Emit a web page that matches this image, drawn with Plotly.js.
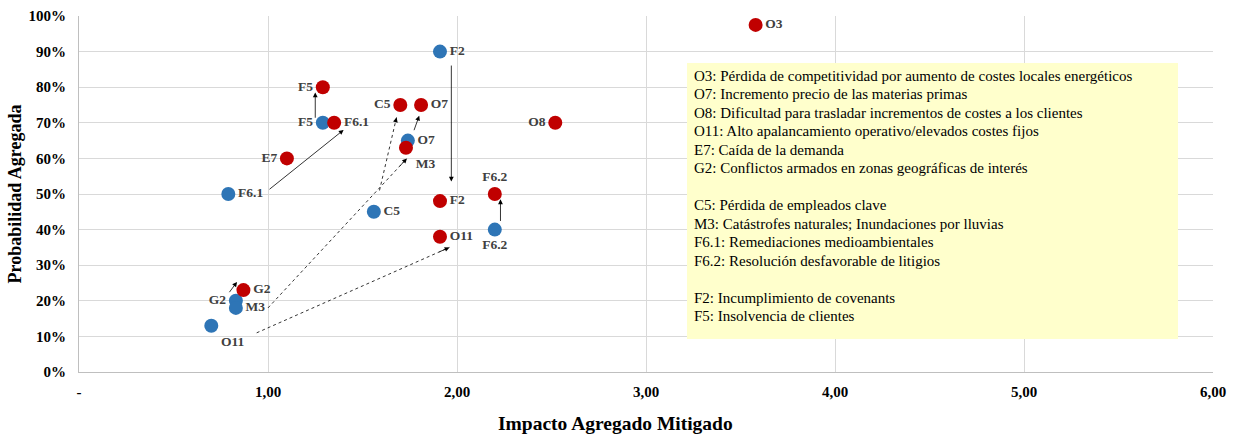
<!DOCTYPE html>
<html>
<head>
<meta charset="utf-8">
<script src="https://cdn.plot.ly/plotly-3.0.1.min.js"></script>
<style>html,body{margin:0;padding:0;background:#fff;}#chart{width:1236px;height:437px;}</style>
</head>
<body>
<div id="chart"></div>
<script>
// ---- data ----
const blueLabels = ['F2','F5','F6.1','C5','O7','F6.2','G2','M3','O11'];
const blueX = [1.91, 1.29, 0.79, 1.56, 1.74, 2.20, 0.83, 0.83, 0.70];
const blueY = [0.90, 0.70, 0.50, 0.45, 0.65, 0.40, 0.20, 0.18, 0.13];

const redLabels = ['O3','F5','F6.1','C5','O7','O8','E7','M3','F2','F6.2','O11','G2'];
const redX = [3.58, 1.29, 1.35, 1.70, 1.81, 2.52, 1.10, 1.73, 1.91, 2.20, 1.91, 0.87];
const redY = [0.975, 0.80, 0.70, 0.75, 0.75, 0.70, 0.60, 0.63, 0.48, 0.50, 0.38, 0.23];

// arrows (from -> to), in data units
const arrowFromX = [1.00, 1.25, 1.97, 1.59, 1.77, 1.00, 0.79, 0.94, 2.23];
const arrowFromY = [0.51, 0.71, 0.865, 0.51, 0.675, 0.18, 0.22, 0.11, 0.42];
const arrowToX   = [1.40, 1.25, 1.97, 1.68, 1.80, 1.735, 0.836, 1.96, 2.23];
const arrowToY   = [0.68, 0.785, 0.535, 0.715, 0.72, 0.60, 0.253, 0.35, 0.485];

const xTickVals = [0, 1, 2, 3, 4, 5, 6];
const xTickText = ['-', '1,00', '2,00', '3,00', '4,00', '5,00', '6,00'];

const legendLines = [
  'O3: Pérdida de competitividad por aumento de costes locales energéticos',
  'O7: Incremento precio de las materias primas',
  'O8: Dificultad para trasladar incrementos de costes a los clientes',
  'O11: Alto apalancamiento operativo/elevados costes fijos',
  'E7: Caída de la demanda',
  'G2: Conflictos armados en zonas geográficas de interés',
  '',
  'C5: Pérdida de empleados clave',
  'M3: Catástrofes naturales; Inundaciones por lluvias',
  'F6.1: Remediaciones medioambientales',
  'F6.2: Resolución desfavorable de litigios',
  '',
  'F2: Incumplimiento de covenants',
  'F5: Insolvencia de clientes'
];

// ---- styles ----
const blueTextPos = ['middle right','middle left','middle right','middle right','middle right','bottom center','middle left','middle right','bottom right'];
const redTextPos = ['middle right','middle left','middle right','middle left','middle right','middle left','middle left','bottom right','middle right','top center','middle right','middle right'];
const arrowDotted = [false, false, false, true, false, true, false, true, false];
const serif = 'Liberation Serif, Times New Roman, serif';
const labelFont = {family: serif, size: 13.5, color: '#404040', weight: 'bold'};

// plot geometry (pixels) for paper-coordinate helpers
const W = 1236, H = 437, ML = 79, MR = 23, MT = 16, MB = 65;
const PW = W - ML - MR, PH = H - MT - MB;
const px = v => (v - ML) / PW;
const py = v => (H - MB - v) / PH;

const traces = [
  {
    type: 'scatter', mode: 'markers+text',
    x: blueX, y: blueY, text: blueLabels.map(t => '<b>' + t + '</b>'),
    textposition: blueTextPos, textfont: labelFont,
    marker: {size: 14, color: '#2E75B6'}, cliponaxis: false, hoverinfo: 'skip'
  },
  {
    type: 'scatter', mode: 'markers+text',
    x: redX, y: redY, text: redLabels.map(t => '<b>' + t + '</b>'),
    textposition: redTextPos, textfont: labelFont,
    marker: {size: 14, color: '#C00000'}, cliponaxis: false, hoverinfo: 'skip'
  }
];

const shapes = [{
  type: 'rect', xref: 'paper', yref: 'paper',
  x0: px(687), x1: px(1178), y0: py(339), y1: py(63),
  fillcolor: '#FFFFCC', line: {width: 0}, layer: 'above'
}];

const annotations = [];
arrowFromX.forEach((fx, i) => {
  const tx = arrowToX[i], ty = arrowToY[i], fy = arrowFromY[i];
  if (arrowDotted[i]) {
    shapes.push({
      type: 'line', xref: 'x', yref: 'y', x0: fx, y0: fy, x1: tx, y1: ty,
      line: {color: '#000', width: 0.8, dash: 'dot'}, layer: 'above'
    });
    annotations.push({
      x: tx, y: ty, ax: tx - (tx - fx) * 0.06, ay: ty - (ty - fy) * 0.06,
      xref: 'x', yref: 'y', axref: 'x', ayref: 'y',
      text: '', showarrow: true, arrowhead: 2, arrowsize: 1.2, arrowwidth: 0.8, arrowcolor: '#000'
    });
  } else {
    annotations.push({
      x: tx, y: ty, ax: fx, ay: fy,
      xref: 'x', yref: 'y', axref: 'x', ayref: 'y',
      text: '', showarrow: true, arrowhead: 2, arrowsize: 1.2, arrowwidth: 0.8, arrowcolor: '#000'
    });
  }
});

legendLines.forEach((line, i) => {
  if (!line) return;
  annotations.push({
    xref: 'paper', yref: 'paper', x: px(692), y: py(75.7 + 18.5 * i),
    xanchor: 'left', yanchor: 'middle', align: 'left', showarrow: false,
    text: line, font: {family: serif, size: 15, color: '#000'}
  });
});

annotations.push({
  xref: 'paper', yref: 'paper', x: px(615), y: py(424),
  xanchor: 'center', yanchor: 'middle', showarrow: false,
  text: '<b>Impacto Agregado Mitigado</b>',
  font: {family: serif, size: 19.5, color: '#000'}
});

const layout = {
  width: W, height: H,
  margin: {l: ML, r: MR, t: MT, b: MB},
  paper_bgcolor: '#fff', plot_bgcolor: '#fff',
  showlegend: false,
  xaxis: {
    range: [0, 6], tickvals: xTickVals, ticktext: xTickText,
    showgrid: true, gridcolor: '#d9d9d9', gridwidth: 1,
    zeroline: false, showline: true, linecolor: '#bfbfbf', linewidth: 1,
    ticks: '', ticklabelstandoff: 6,
    tickfont: {family: serif, size: 15, color: '#000', weight: 'bold'}
  },
  yaxis: {
    range: [0, 1], dtick: 0.1, tickformat: '.0%',
    showgrid: true, gridcolor: '#d9d9d9', gridwidth: 1,
    zeroline: false, showline: true, linecolor: '#bfbfbf', linewidth: 1,
    ticks: '', ticklabelstandoff: 9,
    tickfont: {family: serif, size: 15, color: '#000', weight: 'bold'},
    title: {text: '<b>Probabilidad Agregada</b>', font: {family: serif, size: 18, color: '#000'}, standoff: 2}
  },
  shapes: shapes,
  annotations: annotations
};

Plotly.newPlot('chart', traces, layout, {displayModeBar: false, staticPlot: true});
</script>
</body>
</html>
